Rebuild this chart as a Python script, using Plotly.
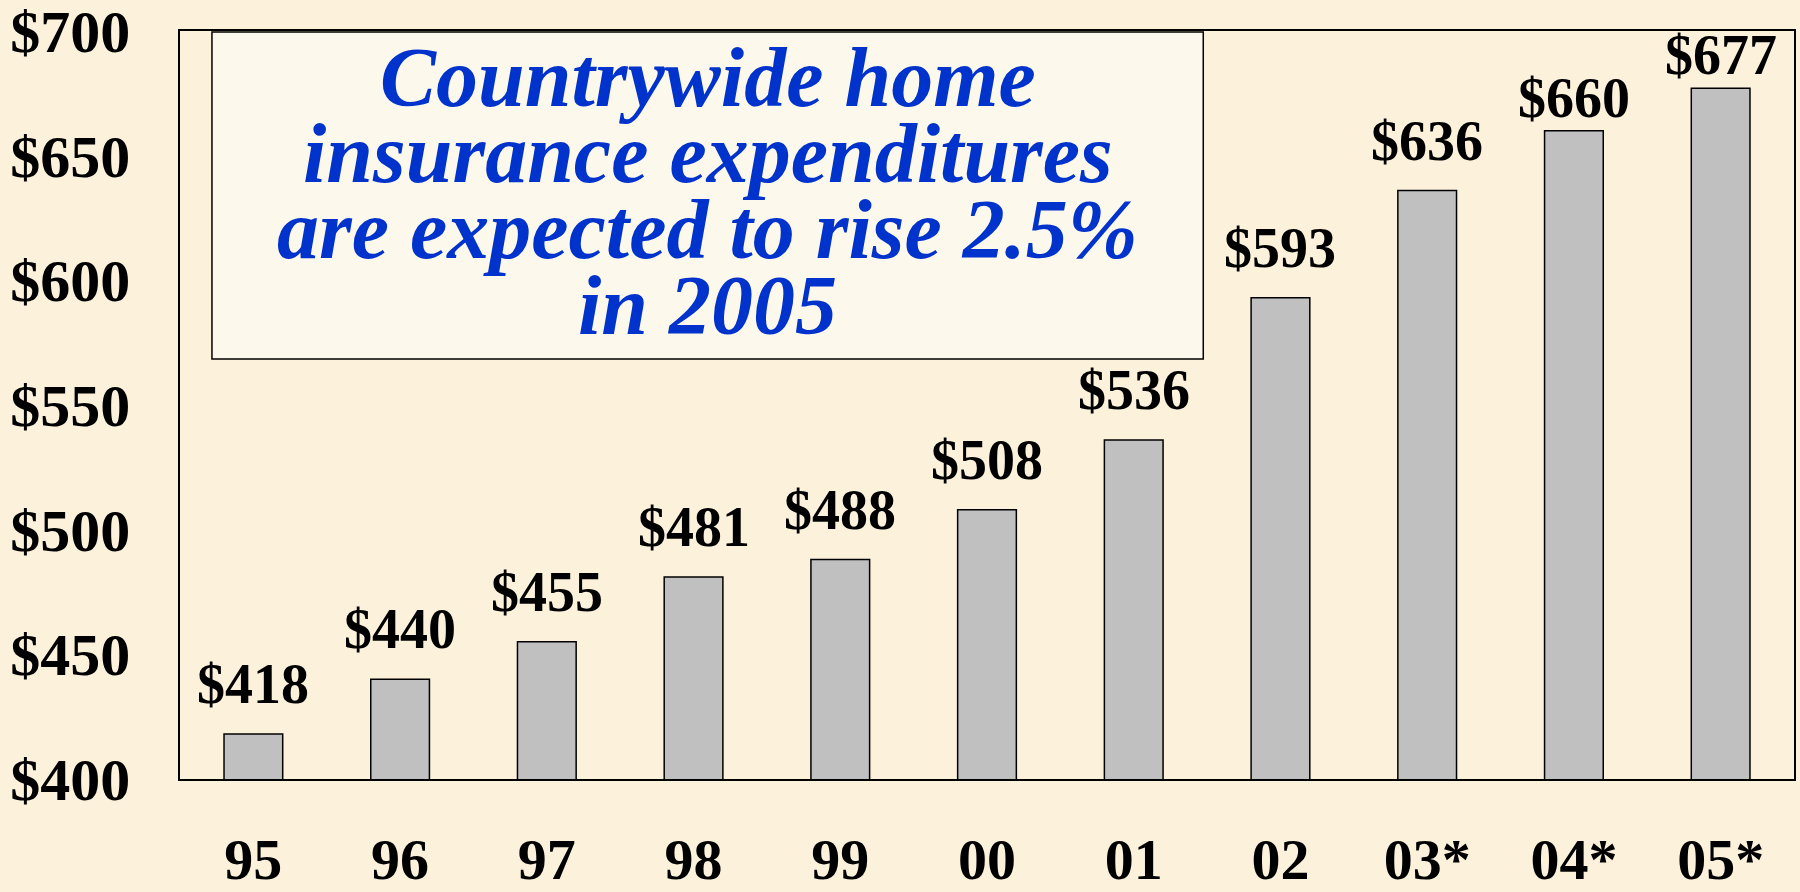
import plotly.graph_objects as go

# ---- data ----
years = ["95", "96", "97", "98", "99", "00", "01", "02", "03*", "04*", "05*"]
expenditures = [418, 440, 455, 481, 488, 508, 536, 593, 636, 660, 677]
y_ticks = [400, 450, 500, 550, 600, 650, 700]
title_lines = [
    "Countrywide home",
    "insurance expenditures",
    "are expected to rise 2.5%",
    "in 2005",
]

BG = "#FCF2DC"
BOX_FILL = "#FDF8EC"
BLUE = "#0033CC"
SERIF = "Liberation Serif, Times New Roman, serif"

fig = go.Figure()
fig.add_trace(go.Bar(
    x=years, y=expenditures,
    marker=dict(color="#C0C0C0", line=dict(color="#000000", width=1.5)),
    width=0.4,
    hoverinfo="skip",
))

# value labels above bars (last two were nudged down in the original slide)
lowered = {"04*", "05*"}
annotations = []
for i, (yr, v) in enumerate(zip(years, expenditures)):
    annotations.append(dict(
        x=i, y=v, xref="x", yref="y",
        text=f"${v}", showarrow=False,
        yanchor="bottom", xanchor="center",
        yshift=0 if yr in lowered else 17,
        font=dict(family=SERIF, size=56, color="#000000", weight="bold"),
    ))

# title text box lines
line_y = [0.9372, 0.8356, 0.7340, 0.6324]
for txt, yy in zip(title_lines, line_y):
    annotations.append(dict(
        x=0.327, y=yy, xref="paper", yref="paper",
        text=f"<b><i>{txt}</i></b>", showarrow=False,
        xanchor="center", yanchor="middle",
        font=dict(family=SERIF, size=84, color=BLUE),
    ))

fig.update_layout(
    width=1800, height=892,
    paper_bgcolor=BG, plot_bgcolor=BG,
    margin=dict(l=180, r=6, t=31, b=113, autoexpand=False),
    showlegend=False,
    bargap=0.6,
    annotations=annotations,
    shapes=[dict(
        type="rect", xref="paper", yref="paper",
        x0=0.0198, x1=0.634, y0=0.5615, y1=0.9987,
        fillcolor=BOX_FILL, line=dict(color="#000000", width=1.5),
        layer="above",
    )],
    xaxis=dict(
        type="category",
        categoryorder="array", categoryarray=years,
        range=[-0.5, len(years) - 0.5],
        automargin=False,
        showgrid=False, zeroline=False,
        showline=True, linecolor="#000000", linewidth=1.5, mirror=True,
        ticks="", ticklabelstandoff=29,
        tickfont=dict(family=SERIF, size=58, color="#000000", weight="bold"),
    ),
    yaxis=dict(
        range=[400, 700],
        automargin=False,
        tickvals=y_ticks, ticktext=[f"${t}" for t in y_ticks],
        showgrid=False, zeroline=False,
        showline=True, linecolor="#000000", linewidth=1.5, mirror=True,
        ticks="", ticklabelstandoff=36, ticklabeloverflow="allow",
        tickfont=dict(family=SERIF, size=60, color="#000000", weight="bold"),
    ),
)

fig.write_html(
    "out.html",
    config={"displayModeBar": False},
    post_script="document.body.style.margin='0';document.body.style.overflow='hidden';",
)
